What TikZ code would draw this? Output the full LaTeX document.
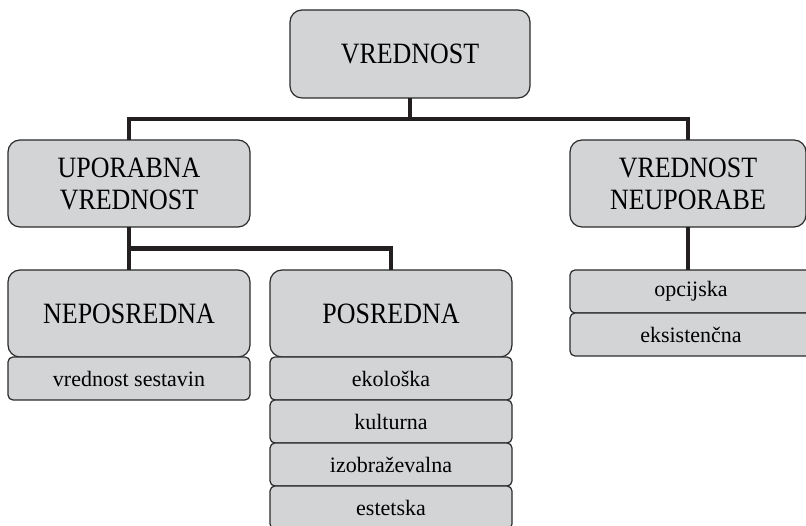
\documentclass[tikz,border=0pt]{standalone}
\usepackage{fontspec}
\setmainfont{Liberation Serif}
\newfontfamily\narrowserif[FakeStretch=0.88]{Liberation Serif}
\usepackage{xcolor}
\usetikzlibrary{positioning}
\definecolor{boxgray}{HTML}{D3D4D6}
\definecolor{boxline}{HTML}{2A2A2A}
\definecolor{linkline}{HTML}{231F20}
\tikzstyle{group}=[draw=boxline, fill=boxgray, line width=1.2pt, rounded corners=12pt, outer sep=0pt, align=center, text=black, minimum width=242pt, minimum height=87pt, font=\narrowserif\fontsize{29.5}{32}\selectfont]
\tikzstyle{item}=[draw=boxline, fill=boxgray, line width=1.2pt, rounded corners=5pt, outer sep=0pt, text=black, minimum width=242pt, minimum height=43pt, font=\fontsize{22}{26}\selectfont]
\tikzstyle{link}=[draw=linkline, line width=4.5pt, line join=miter]

\begin{document}
\begin{tikzpicture}
    \useasboundingbox (0,0) rectangle (806pt,526pt);

    \node[group, minimum width=240pt, minimum height=88pt] (vrednost)   at (410pt,472pt)   {VREDNOST};
    \node[group]                                          (uporabna)   at (129pt,342.5pt) {UPORABNA\\VREDNOST};
    \node[group, minimum width=236pt]                     (neuporabe)  at (688pt,342.5pt) {VREDNOST\\NEUPORABE};
    \node[group]                                          (neposredna) at (129pt,212.5pt) {NEPOSREDNA};
    \node[group]                                          (posredna)   at (391pt,212.5pt) {POSREDNA};

    \node[item]  (sestavin)      [below = 0pt of neposredna] {vrednost sestavin};
    \node[item]  (ekoloska)      [below = 0pt of posredna]   {ekološka};
    \node[item]  (kulturna)      [below = 0pt of ekoloska]   {kulturna};
    \node[item]  (izobrazevalna) [below = 0pt of kulturna]   {izobraževalna};
    \node[item]  (estetska)      [below = 0pt of izobrazevalna] {estetska};

    \node[item, anchor=north west] (opcijska)    at ([yshift=-43pt]neuporabe.south west) {opcijska};
    \node[item]                    (eksistencna) [below = 0pt of opcijska]               {eksistenčna};

    \path (vrednost.south)  -- (vrednost.south |- uporabna.north) coordinate[pos=0.5] (fork1);
    \path (uporabna.south)  -- (neposredna.north) coordinate[pos=0.5] (fork2);

    \draw[link] (vrednost.south) -- (fork1);
    \draw[link] (uporabna.north) |- (fork1) -| (neuporabe.north);
    \draw[link] (uporabna.south) -- (neposredna.north);
    \draw[link] (fork2) -| (posredna.north);
    \draw[link] (neuporabe.south) -- (opcijska.north -| neuporabe.south);
\end{tikzpicture}
\end{document}
